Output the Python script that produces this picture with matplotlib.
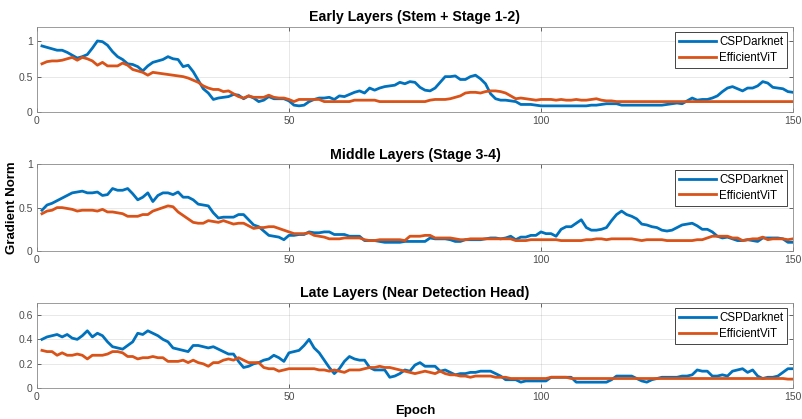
import matplotlib

matplotlib.use("Agg")

import matplotlib.pyplot as plt
import numpy as np

plt.rcParams['font.family'] = ['Liberation Sans', 'DejaVu Sans']

# Epochs 1..150
epochs = np.arange(1, 151)

# Early layers (Stem + Stage 1-2)
early_csp = [
    0.93, 0.91, 0.89, 0.87, 0.87, 0.84, 0.80, 0.76, 0.78, 0.81,
    0.90, 1.00, 0.99, 0.94, 0.85, 0.78, 0.74, 0.68, 0.67, 0.64,
    0.58, 0.65, 0.70, 0.72, 0.74, 0.78, 0.75, 0.74, 0.64, 0.66,
    0.57, 0.45, 0.33, 0.27, 0.18, 0.20, 0.21, 0.22, 0.25, 0.24,
    0.19, 0.23, 0.20, 0.15, 0.17, 0.22, 0.19, 0.19, 0.19, 0.16,
    0.10, 0.09, 0.10, 0.15, 0.18, 0.20, 0.20, 0.21, 0.18, 0.23,
    0.22, 0.25, 0.28, 0.30, 0.27, 0.34, 0.31, 0.34, 0.36, 0.37,
    0.38, 0.42, 0.40, 0.43, 0.42, 0.35, 0.31, 0.30, 0.34, 0.42,
    0.50, 0.50, 0.51, 0.46, 0.46, 0.50, 0.52, 0.47, 0.40, 0.26,
    0.19, 0.17, 0.17, 0.16, 0.15, 0.11, 0.11, 0.11, 0.10, 0.09,
    0.09, 0.09, 0.09, 0.09, 0.09, 0.09, 0.09, 0.09, 0.09, 0.10,
    0.10, 0.11, 0.12, 0.12, 0.12, 0.10, 0.10, 0.10, 0.10, 0.10,
    0.10, 0.10, 0.10, 0.10, 0.11, 0.12, 0.13, 0.12, 0.16, 0.20,
    0.17, 0.18, 0.18, 0.20, 0.23, 0.29, 0.34, 0.36, 0.33, 0.30,
    0.34, 0.34, 0.37, 0.43, 0.41, 0.35, 0.34, 0.33, 0.29, 0.28,
]
early_vit = [
    0.68, 0.71, 0.72, 0.72, 0.73, 0.75, 0.77, 0.73, 0.77, 0.75,
    0.72, 0.66, 0.70, 0.65, 0.65, 0.65, 0.69, 0.66, 0.60, 0.58,
    0.56, 0.52, 0.56, 0.55, 0.54, 0.53, 0.52, 0.51, 0.50, 0.48,
    0.45, 0.42, 0.37, 0.34, 0.32, 0.32, 0.29, 0.30, 0.26, 0.22,
    0.20, 0.23, 0.21, 0.21, 0.21, 0.24, 0.21, 0.20, 0.20, 0.18,
    0.15, 0.18, 0.18, 0.18, 0.18, 0.18, 0.15, 0.15, 0.15, 0.15,
    0.15, 0.15, 0.17, 0.17, 0.17, 0.17, 0.17, 0.15, 0.15, 0.15,
    0.15, 0.15, 0.15, 0.15, 0.15, 0.15, 0.15, 0.17, 0.18, 0.18,
    0.18, 0.19, 0.21, 0.23, 0.27, 0.28, 0.28, 0.27, 0.29, 0.30,
    0.30, 0.29, 0.27, 0.23, 0.19, 0.20, 0.19, 0.18, 0.17, 0.18,
    0.18, 0.18, 0.17, 0.18, 0.17, 0.17, 0.18, 0.17, 0.17, 0.18,
    0.19, 0.17, 0.16, 0.16, 0.15, 0.15, 0.15, 0.15, 0.15, 0.15,
    0.15, 0.15, 0.15, 0.15, 0.15, 0.15, 0.15, 0.15, 0.15, 0.15,
    0.15, 0.15, 0.15, 0.15, 0.15, 0.15, 0.15, 0.15, 0.15, 0.15,
    0.15, 0.15, 0.15, 0.15, 0.15, 0.15, 0.15, 0.15, 0.15, 0.15,
]

# Middle layers (Stage 3-4)
middle_csp = [
    0.47, 0.53, 0.55, 0.58, 0.61, 0.64, 0.67, 0.68, 0.69, 0.67,
    0.67, 0.68, 0.64, 0.65, 0.72, 0.70, 0.70, 0.72, 0.66, 0.59,
    0.62, 0.67, 0.57, 0.64, 0.67, 0.67, 0.65, 0.68, 0.62, 0.62,
    0.59, 0.54, 0.53, 0.52, 0.44, 0.38, 0.39, 0.39, 0.39, 0.42,
    0.42, 0.36, 0.30, 0.28, 0.23, 0.18, 0.17, 0.16, 0.13, 0.18,
    0.18, 0.19, 0.19, 0.22, 0.21, 0.21, 0.22, 0.22, 0.19, 0.19,
    0.19, 0.17, 0.17, 0.17, 0.12, 0.12, 0.12, 0.11, 0.10, 0.10,
    0.10, 0.10, 0.11, 0.11, 0.11, 0.11, 0.11, 0.15, 0.14, 0.14,
    0.14, 0.13, 0.11, 0.11, 0.13, 0.13, 0.13, 0.13, 0.14, 0.15,
    0.15, 0.14, 0.15, 0.17, 0.13, 0.16, 0.16, 0.18, 0.18, 0.22,
    0.20, 0.20, 0.17, 0.25, 0.28, 0.28, 0.32, 0.36, 0.27, 0.24,
    0.24, 0.25, 0.27, 0.35, 0.42, 0.46, 0.42, 0.40, 0.37, 0.31,
    0.30, 0.28, 0.27, 0.24, 0.23, 0.24, 0.27, 0.30, 0.31, 0.32,
    0.29, 0.25, 0.25, 0.22, 0.17, 0.15, 0.16, 0.14, 0.12, 0.12,
    0.13, 0.12, 0.11, 0.15, 0.15, 0.15, 0.15, 0.14, 0.10, 0.10,
]
middle_vit = [
    0.43, 0.46, 0.47, 0.50, 0.50, 0.49, 0.48, 0.46, 0.47, 0.47,
    0.47, 0.46, 0.48, 0.45, 0.45, 0.44, 0.43, 0.40, 0.40, 0.40,
    0.42, 0.42, 0.46, 0.48, 0.50, 0.52, 0.51, 0.45, 0.41, 0.37,
    0.33, 0.32, 0.32, 0.35, 0.34, 0.33, 0.35, 0.33, 0.31, 0.32,
    0.32, 0.29, 0.26, 0.27, 0.27, 0.28, 0.28, 0.26, 0.24, 0.22,
    0.20, 0.20, 0.20, 0.21, 0.18, 0.17, 0.16, 0.14, 0.14, 0.14,
    0.15, 0.15, 0.15, 0.15, 0.13, 0.12, 0.12, 0.13, 0.13, 0.13,
    0.13, 0.13, 0.12, 0.17, 0.17, 0.17, 0.18, 0.18, 0.15, 0.15,
    0.15, 0.15, 0.14, 0.13, 0.13, 0.14, 0.14, 0.14, 0.14, 0.14,
    0.14, 0.14, 0.14, 0.14, 0.12, 0.12, 0.12, 0.13, 0.13, 0.13,
    0.13, 0.13, 0.13, 0.12, 0.12, 0.12, 0.12, 0.12, 0.13, 0.13,
    0.14, 0.14, 0.13, 0.14, 0.14, 0.14, 0.14, 0.14, 0.13, 0.12,
    0.13, 0.13, 0.13, 0.13, 0.12, 0.12, 0.12, 0.12, 0.12, 0.12,
    0.13, 0.13, 0.15, 0.17, 0.17, 0.17, 0.17, 0.15, 0.15, 0.12,
    0.13, 0.14, 0.14, 0.16, 0.13, 0.14, 0.14, 0.14, 0.13, 0.14,
]

# Late layers (Near Detection Head)
late_csp = [
    0.40, 0.42, 0.43, 0.44, 0.42, 0.44, 0.41, 0.40, 0.43, 0.47,
    0.42, 0.45, 0.43, 0.38, 0.34, 0.33, 0.32, 0.35, 0.38, 0.45,
    0.44, 0.47, 0.45, 0.43, 0.40, 0.38, 0.33, 0.32, 0.31, 0.30,
    0.35, 0.35, 0.34, 0.33, 0.34, 0.32, 0.30, 0.28, 0.28, 0.22,
    0.17, 0.18, 0.20, 0.21, 0.23, 0.24, 0.27, 0.25, 0.22, 0.29,
    0.30, 0.31, 0.35, 0.40, 0.33, 0.29, 0.23, 0.17, 0.12, 0.16,
    0.22, 0.26, 0.24, 0.23, 0.23, 0.17, 0.15, 0.15, 0.15, 0.09,
    0.10, 0.12, 0.15, 0.14, 0.19, 0.21, 0.18, 0.18, 0.18, 0.14,
    0.15, 0.13, 0.11, 0.12, 0.12, 0.13, 0.13, 0.14, 0.14, 0.14,
    0.12, 0.10, 0.07, 0.07, 0.07, 0.05, 0.06, 0.06, 0.06, 0.06,
    0.06, 0.09, 0.09, 0.09, 0.09, 0.09, 0.05, 0.05, 0.05, 0.05,
    0.05, 0.05, 0.05, 0.07, 0.10, 0.10, 0.10, 0.10, 0.08, 0.06,
    0.05, 0.07, 0.08, 0.09, 0.09, 0.09, 0.09, 0.10, 0.10, 0.11,
    0.15, 0.14, 0.14, 0.10, 0.10, 0.11, 0.10, 0.14, 0.15, 0.16,
    0.13, 0.15, 0.10, 0.08, 0.09, 0.09, 0.10, 0.13, 0.16, 0.16,
]
late_vit = [
    0.31, 0.30, 0.30, 0.27, 0.29, 0.27, 0.27, 0.28, 0.27, 0.24,
    0.27, 0.27, 0.27, 0.28, 0.30, 0.30, 0.29, 0.26, 0.26, 0.24,
    0.25, 0.25, 0.26, 0.25, 0.25, 0.22, 0.22, 0.22, 0.23, 0.21,
    0.23, 0.21, 0.20, 0.18, 0.21, 0.21, 0.23, 0.24, 0.23, 0.25,
    0.23, 0.21, 0.21, 0.21, 0.17, 0.16, 0.16, 0.14, 0.15, 0.16,
    0.16, 0.16, 0.16, 0.16, 0.16, 0.15, 0.15, 0.14, 0.15, 0.14,
    0.13, 0.15, 0.15, 0.15, 0.16, 0.17, 0.17, 0.18, 0.17, 0.17,
    0.16, 0.15, 0.14, 0.13, 0.12, 0.13, 0.14, 0.13, 0.12, 0.14,
    0.12, 0.11, 0.11, 0.10, 0.10, 0.09, 0.10, 0.10, 0.10, 0.10,
    0.09, 0.09, 0.09, 0.08, 0.08, 0.08, 0.08, 0.08, 0.08, 0.08,
    0.08, 0.09, 0.09, 0.09, 0.09, 0.08, 0.08, 0.08, 0.08, 0.08,
    0.08, 0.08, 0.08, 0.08, 0.08, 0.08, 0.08, 0.08, 0.08, 0.08,
    0.08, 0.08, 0.08, 0.08, 0.08, 0.08, 0.08, 0.08, 0.08, 0.08,
    0.08, 0.08, 0.08, 0.08, 0.08, 0.08, 0.08, 0.08, 0.08, 0.08,
    0.08, 0.08, 0.08, 0.08, 0.08, 0.08, 0.08, 0.08, 0.075, 0.075,
]

titles = [
    'Early Layers (Stem + Stage 1-2)',
    'Middle Layers (Stage 3-4)',
    'Late Layers (Near Detection Head)',
]
series = [(early_csp, early_vit), (middle_csp, middle_vit), (late_csp, late_vit)]
ylims = [1.2, 1.0, 0.7]
yticks = [[0, 0.5, 1], [0, 0.5, 1], [0, 0.2, 0.4, 0.6]]
yticklabels = [['0', '0.5', '1'], ['0', '0.5', '1'], ['0', '0.2', '0.4', '0.6']]

blue = '#0072BD'
orange = '#D95319'

fig = plt.figure(figsize=(8.03, 4.19), dpi=100)
positions = [
    [0.046, 0.732, 0.9415, 0.2043],
    [0.046, 0.401, 0.9415, 0.2070],
    [0.046, 0.0733, 0.9415, 0.2043],
]

axes = []
for pos, title, (csp, vit), ytop, yt, ytl in zip(positions, titles, series, ylims, yticks, yticklabels):
    ax = fig.add_axes(pos)
    ax.plot(epochs, csp, color=blue, linewidth=2.0, label='CSPDarknet')
    ax.plot(epochs, vit, color=orange, linewidth=2.0, label='EfficientViT')
    ax.set_xlim(0, 150)
    ax.set_ylim(0, ytop)
    ax.set_xticks([0, 50, 100, 150])
    ax.set_yticks(yt)
    ax.set_yticklabels(ytl)
    ax.grid(True, color='#262626', alpha=0.12, linewidth=0.6)
    ax.tick_params(direction='in', top=True, right=True, length=3, width=0.6,
                   labelsize=7.5, labelcolor='#4d4d4d', color='#4d4d4d', pad=3)
    for s in ax.spines.values():
        s.set_color('#8c8c8c')
        s.set_linewidth(0.6)
    ax.set_title(title, fontsize=10.2, fontweight='bold', pad=4)
    leg = ax.legend(loc='upper right', fontsize=8.3, handlelength=3.2, handletextpad=0.3,
                    borderpad=0.35, labelspacing=0.3, fancybox=False, framealpha=1,
                    borderaxespad=0.5)
    leg.get_frame().set_edgecolor('#262626')
    leg.get_frame().set_linewidth(0.6)
    axes.append(ax)

axes[1].set_ylabel('Gradient Norm', fontsize=9.5, fontweight='bold', va='center')
axes[1].yaxis.set_label_coords(-0.033, 0.5)
axes[2].set_xlabel('Epoch', fontsize=9.5, fontweight='bold', labelpad=2)

plt.savefig('out.png', dpi=100)
